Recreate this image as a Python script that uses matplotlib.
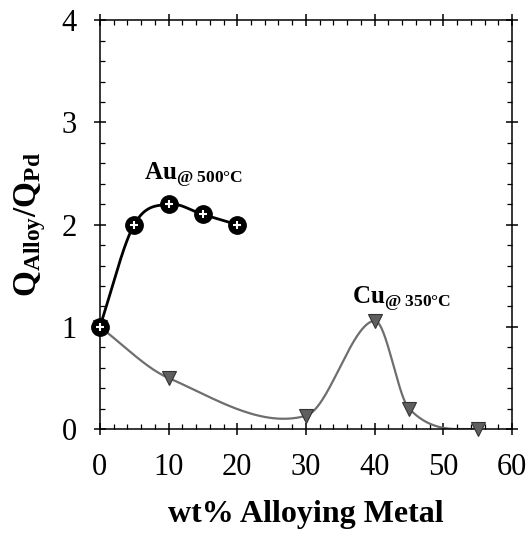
import numpy as np
import matplotlib
matplotlib.use('Agg')
import matplotlib.pyplot as plt
from matplotlib.ticker import MultipleLocator

plt.rcParams['font.family'] = 'Liberation Serif'
plt.rcParams['mathtext.fontset'] = 'custom'
plt.rcParams['mathtext.rm'] = 'Liberation Serif'
plt.rcParams['mathtext.bf'] = 'Liberation Serif:bold'
plt.rcParams['mathtext.it'] = 'Liberation Serif:italic'

# data
au_x = [0, 5, 10, 15, 20]
au_y = [1.0, 2.0, 2.2, 2.1, 2.0]
cu_x = [0, 10, 30, 40, 45, 55]
cu_y = [1.0, 0.5, 0.13, 1.06, 0.2, 0.0]


def smooth(x, y, end_flat=False, n=300):
    # cubic hermite through the points, finite difference slopes
    x = np.asarray(x, float)
    y = np.asarray(y, float)
    m = np.zeros_like(y)
    m[0] = (y[1] - y[0]) / (x[1] - x[0])
    m[-1] = 0.0 if end_flat else (y[-1] - y[-2]) / (x[-1] - x[-2])
    m[1:-1] = (y[2:] - y[:-2]) / (x[2:] - x[:-2])
    xs, ys = [], []
    for i in range(len(x) - 1):
        h = x[i + 1] - x[i]
        t = np.linspace(0, 1, n // (len(x) - 1))
        h00 = 2 * t**3 - 3 * t**2 + 1
        h10 = t**3 - 2 * t**2 + t
        h01 = -2 * t**3 + 3 * t**2
        h11 = t**3 - t**2
        xs.append(x[i] + t * h)
        ys.append(h00 * y[i] + h10 * h * m[i] + h01 * y[i + 1] + h11 * h * m[i + 1])
    return np.concatenate(xs), np.concatenate(ys)


fig = plt.figure(figsize=(5.28, 5.33), dpi=100)
ax = fig.add_axes([0.189, 0.195, 0.781, 0.767])

cx, cy = smooth(cu_x, cu_y, end_flat=True)
cy = np.clip(cy, 0, None)
ax.plot(cx, cy, color='#6e6e6e', lw=1.6, zorder=2)
ax.plot(cu_x, cu_y, linestyle='none', marker='v', markersize=10,
        markerfacecolor='#5f5f5f', markeredgecolor='#333333', markeredgewidth=0.8,
        zorder=3, clip_on=False)

ax_x, ax_y = smooth(au_x, au_y)
ax.plot(ax_x, ax_y, color='black', lw=2.0, zorder=4)
ax.plot(au_x, au_y, linestyle='none', marker='o', markersize=12.5,
        markerfacecolor='black', markeredgecolor='black', zorder=5, clip_on=False)
ax.plot(au_x, au_y, linestyle='none', marker='+', markersize=5.5,
        markeredgecolor='white', markeredgewidth=1.5, zorder=6, clip_on=False)

ax.text(6.5, 2.44, r'$\mathbf{Au}_{\mathbf{@\ 500°C}}$', fontsize=18)
ax.text(36.7, 1.23, r'$\mathbf{Cu}_{\mathbf{@\ 350°C}}$', fontsize=18)

ax.set_xlim(0, 60)
ax.set_ylim(0, 4)
ax.xaxis.set_major_locator(MultipleLocator(10))
ax.xaxis.set_minor_locator(MultipleLocator(2))
ax.yaxis.set_major_locator(MultipleLocator(1))
ax.yaxis.set_minor_locator(MultipleLocator(0.2))
ax.tick_params(which='major', direction='inout', length=9, width=1.1,
               top=True, right=True, labelsize=22)
ax.tick_params(axis='x', which='major', pad=13)
ax.tick_params(axis='y', which='major', pad=12)
ax.tick_params(which='minor', direction='in', length=3.5, width=0.9,
               top=True, right=True)
for s in ax.spines.values():
    s.set_linewidth(1.1)

ax.set_xlabel('wt% Alloying Metal', fontsize=23, fontweight='bold', labelpad=13)
ax.set_ylabel(r'$\mathbf{Q_{Alloy}/Q_{Pd}}$', fontsize=24, labelpad=10)

fig.savefig('out.png', dpi=100)
